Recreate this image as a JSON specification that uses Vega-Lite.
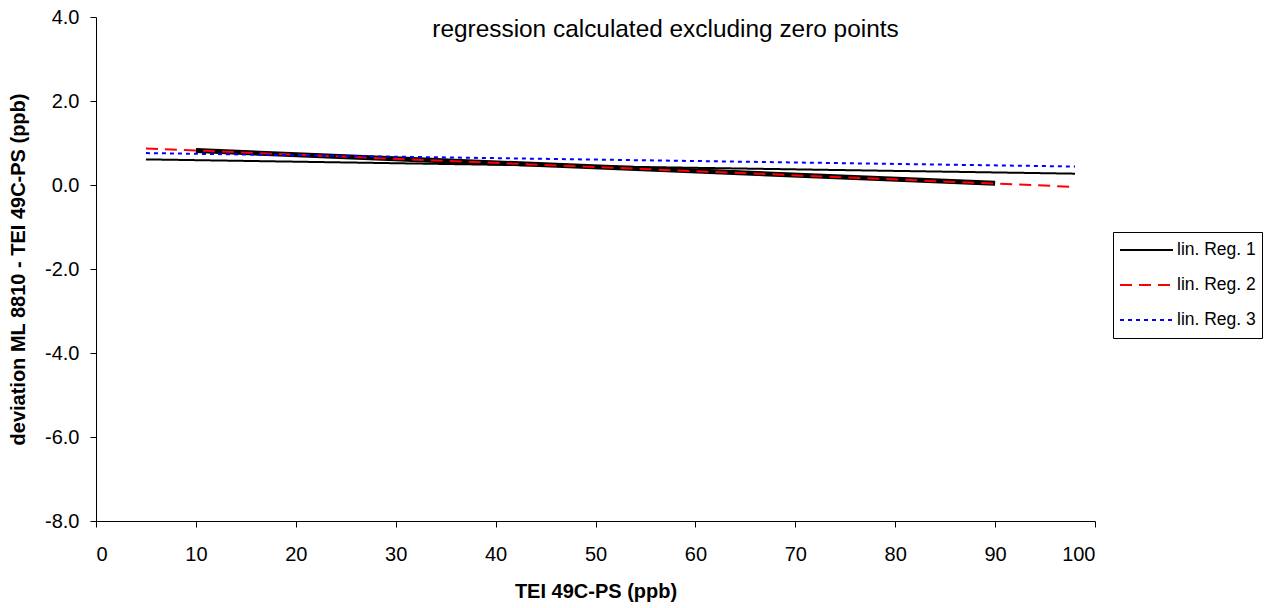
{
  "$schema": "https://vega.github.io/schema/vega-lite/v6.json",
  "width": 999,
  "height": 504,
  "autosize": "none",
  "padding": {"left": 96, "top": 17, "right": 179, "bottom": 87},
  "background": "white",
  "config": {
    "font": "Liberation Sans",
    "view": {"stroke": null},
    "axis": {"grid": false, "domainColor": "black", "tickColor": "black", "labelColor": "black", "titleColor": "black", "labelFont": "Liberation Sans", "titleFont": "Liberation Sans", "labelFontSize": 20, "titleFontSize": 20, "titleFontWeight": "bold", "tickSize": 6, "domainWidth": 1, "tickWidth": 1}
  },
  "title": {"text": "regression calculated excluding zero points", "fontSize": 24.4, "fontWeight": "normal", "font": "Liberation Sans", "color": "black", "anchor": "middle", "dx": 70, "offset": -59, "baseline": "bottom"},
  "datasets": {
    "measured": [
      {"x": 10, "y": 0.82},
      {"x": 90, "y": 0.04}
    ],
    "regressions": [
      {"series": "lin. Reg. 1", "x": 5, "y": 0.61},
      {"series": "lin. Reg. 1", "x": 98, "y": 0.27},
      {"series": "lin. Reg. 2", "x": 5, "y": 0.87},
      {"series": "lin. Reg. 2", "x": 97.5, "y": -0.04},
      {"series": "lin. Reg. 3", "x": 5, "y": 0.76},
      {"series": "lin. Reg. 3", "x": 98, "y": 0.44}
    ]
  },
  "layer": [
    {
      "data": {"name": "measured"},
      "mark": {"type": "line", "color": "black", "strokeWidth": 5},
      "encoding": {
        "x": {"field": "x", "type": "quantitative", "scale": {"domain": [0, 100], "nice": false}, "axis": {"values": [0,10,20,30,40,50,60,70,80,90,100], "title": "TEI 49C-PS (ppb)", "labelPadding": 17, "titlePadding": 17}},
        "y": {"field": "y", "type": "quantitative", "scale": {"domain": [-8, 4], "nice": false}, "axis": {"values": [-8,-6,-4,-2,0,2,4], "labelExpr": "replace(format(datum.value, '.1f'), '\u2212', '-')", "title": "deviation ML 8810 - TEI 49C-PS (ppb)", "labelPadding": 11, "titlePadding": 16}}
      }
    },
    {
      "data": {"name": "regressions"},
      "mark": {"type": "line", "strokeWidth": 2},
      "encoding": {
        "x": {"field": "x", "type": "quantitative"},
        "y": {"field": "y", "type": "quantitative"},
        "color": {"field": "series", "type": "nominal", "scale": {"domain": ["lin. Reg. 1", "lin. Reg. 2", "lin. Reg. 3"], "range": ["black", "#FF0000", "#0000FF"]}, "legend": {"title": null, "orient": "none", "legendX": 1017, "legendY": 215, "strokeColor": "black", "padding": 6, "clipHeight": 24, "symbolType": "stroke", "symbolSize": 2809, "symbolStrokeWidth": 2, "labelFontSize": 17.5, "labelFont": "Liberation Sans", "labelColor": "black", "labelOffset": 3, "rowPadding": 11}},
        "strokeDash": {"field": "series", "type": "nominal", "scale": {"domain": ["lin. Reg. 1", "lin. Reg. 2", "lin. Reg. 3"], "range": [[1, 0], [12, 7], [4, 4]]}, "legend": null}
      }
    }
  ]
}
